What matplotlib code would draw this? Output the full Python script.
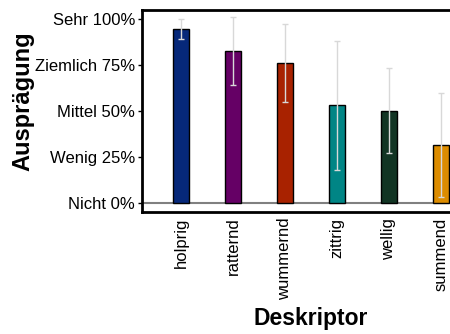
import matplotlib
matplotlib.use("Agg")
import matplotlib.pyplot as plt
import numpy as np

plt.rcParams['font.family'] = ['Liberation Sans', 'DejaVu Sans']

descriptors = ["holprig", "ratternd", "wummernd", "zittrig", "wellig", "summend"]
means = [94.6, 82.8, 76.3, 53.1, 50.2, 31.7]
stds = [5.5, 18.4, 21.2, 35.3, 23.1, 28.4]
colors = ["#06287a", "#650065", "#a82200", "#008585", "#123524", "#dc8c00"]
ytick_vals = [0, 25, 50, 75, 100]
ytick_labels = ["Nicht 0%", "Wenig 25%", "Mittel 50%", "Ziemlich 75%", "Sehr 100%"]

fig = plt.figure(figsize=(4.5, 3.34), dpi=100)
ax = fig.add_axes([0.3156, 0.365, 0.751, 0.605])

x = np.arange(len(descriptors))
ax.axhline(0, color="#808080", lw=1.5, zorder=1)
ax.bar(x, means, width=0.31, color=colors, edgecolor="black", linewidth=1.0, zorder=2)
ax.errorbar(x, means, yerr=stds, fmt="none", ecolor="#d8d8d8", elinewidth=1.0,
            capsize=2.5, capthick=1.0, zorder=3)

ax.set_xlim(-0.75, 5.75)
ax.set_ylim(-5, 105)
ax.set_yticks(ytick_vals)
ax.set_yticklabels(ytick_labels, fontsize=12)
ax.set_xticks(x)
ax.set_xticklabels(descriptors, rotation=90, fontsize=12)
ax.set_xticks([x[-1]], minor=True)
ax.tick_params(axis="x", which="major", length=0, pad=4)
ax.tick_params(axis="x", which="minor", top=True, bottom=True, direction="in",
               length=3, width=1.5)
ax.tick_params(axis="y", direction="out", length=3, width=1, pad=2)
for s in ax.spines.values():
    s.set_linewidth(2)

ax.set_ylabel("Ausprägung", fontsize=17, fontweight="bold")
ax.yaxis.set_label_coords(-0.317, 0.547)
ax.set_xlabel("Deskriptor", fontsize=16.5, fontweight="bold", labelpad=5)

fig.savefig("out.png", dpi=100)
